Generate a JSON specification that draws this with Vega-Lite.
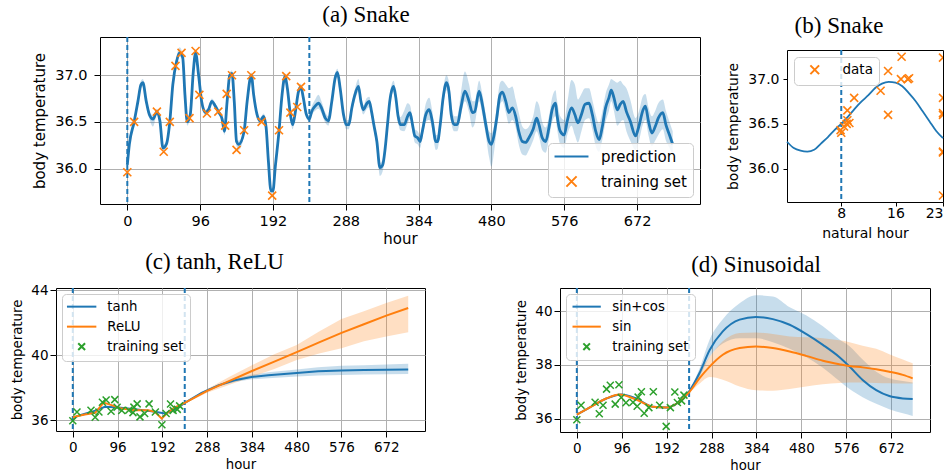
{
"$schema": "https://vega.github.io/schema/vega-lite/v6.json",
"padding": {"left": 10, "top": 3, "right": 0, "bottom": 0},
"datasets": {
"a_line": [
{"h":0,"t":36.04,"lo":36.0,"hi":36.08},{"h":2.7,"t":36.26,"lo":36.22,"hi":36.3},{"h":9,"t":36.5,"lo":36.47,"hi":36.53},{"h":14,"t":36.72,"lo":36.69,"hi":36.75},{"h":18,"t":36.9,"lo":36.86,"hi":36.94},{"h":20.5,"t":36.92,"lo":36.88,"hi":36.96},{"h":25,"t":36.72,"lo":36.69,"hi":36.75},{"h":29,"t":36.58,"lo":36.54,"hi":36.62},{"h":34,"t":36.53,"lo":36.45,"hi":36.57},{"h":39,"t":36.61,"lo":36.58,"hi":36.64},{"h":43,"t":36.51,"lo":36.48,"hi":36.54},{"h":47,"t":36.22,"lo":36.19,"hi":36.25},{"h":51.5,"t":36.26,"lo":36.22,"hi":36.3},{"h":56,"t":36.5,"lo":36.47,"hi":36.53},{"h":60,"t":36.9,"lo":36.87,"hi":36.93},{"h":65,"t":37.15,"lo":37.11,"hi":37.2},{"h":69,"t":37.24,"lo":37.2,"hi":37.3},{"h":73,"t":37.19,"lo":37.15,"hi":37.23},{"h":76,"t":36.79,"lo":36.76,"hi":36.82},{"h":79,"t":36.5,"lo":36.46,"hi":36.53},{"h":83,"t":36.58,"lo":36.55,"hi":36.61},{"h":87,"t":37.04,"lo":37.0,"hi":37.08},{"h":90,"t":37.24,"lo":37.2,"hi":37.28},{"h":94,"t":37.0,"lo":36.97,"hi":37.03},{"h":98,"t":36.72,"lo":36.69,"hi":36.75},{"h":103,"t":36.6,"lo":36.57,"hi":36.63},{"h":107,"t":36.63,"lo":36.6,"hi":36.66},{"h":111.5,"t":36.72,"lo":36.69,"hi":36.75},{"h":116,"t":36.67,"lo":36.64,"hi":36.7},{"h":120,"t":36.61,"lo":36.58,"hi":36.64},{"h":125,"t":36.53,"lo":36.5,"hi":36.56},{"h":128,"t":36.4,"lo":36.36,"hi":36.44},{"h":131.6,"t":36.72,"lo":36.69,"hi":36.75},{"h":135,"t":37.0,"lo":36.97,"hi":37.03},{"h":138,"t":37.02,"lo":36.99,"hi":37.05},{"h":141,"t":36.72,"lo":36.69,"hi":36.75},{"h":144,"t":36.29,"lo":36.24,"hi":36.32},{"h":147,"t":36.26,"lo":36.2,"hi":36.3},{"h":154,"t":36.4,"lo":36.37,"hi":36.43},{"h":158,"t":36.72,"lo":36.69,"hi":36.75},{"h":163.5,"t":37.0,"lo":36.97,"hi":37.03},{"h":166.6,"t":36.79,"lo":36.76,"hi":36.82},{"h":171,"t":36.58,"lo":36.55,"hi":36.61},{"h":175,"t":36.51,"lo":36.48,"hi":36.54},{"h":179.7,"t":36.56,"lo":36.53,"hi":36.59},{"h":183,"t":36.44,"lo":36.41,"hi":36.47},{"h":186,"t":36.08,"lo":36.05,"hi":36.11},{"h":189.4,"t":35.76,"lo":35.73,"hi":35.79},{"h":192,"t":35.76,"lo":35.73,"hi":35.79},{"h":195,"t":36.01,"lo":35.98,"hi":36.04},{"h":200,"t":36.4,"lo":36.37,"hi":36.43},{"h":204,"t":36.79,"lo":36.76,"hi":36.82},{"h":208,"t":36.99,"lo":36.96,"hi":37.02},{"h":211,"t":36.86,"lo":36.83,"hi":36.89},{"h":215,"t":36.58,"lo":36.54,"hi":36.61},{"h":218,"t":36.47,"lo":36.42,"hi":36.5},{"h":221,"t":36.58,"lo":36.55,"hi":36.61},{"h":225.8,"t":36.83,"lo":36.8,"hi":36.86},{"h":228.8,"t":36.875,"lo":36.84,"hi":36.91},{"h":232,"t":36.76,"lo":36.73,"hi":36.79},{"h":236,"t":36.58,"lo":36.55,"hi":36.61},{"h":240,"t":36.53,"lo":36.5,"hi":36.57},{"h":243,"t":36.61,"lo":36.57,"hi":36.66},{"h":247.7,"t":36.67,"lo":36.62,"hi":36.74},{"h":252,"t":36.7,"lo":36.64,"hi":36.79},{"h":256,"t":36.65,"lo":36.59,"hi":36.72},{"h":261,"t":36.54,"lo":36.49,"hi":36.6},{"h":265,"t":36.51,"lo":36.46,"hi":36.56},{"h":269.6,"t":36.72,"lo":36.67,"hi":36.77},{"h":274,"t":36.97,"lo":36.92,"hi":37.02},{"h":277,"t":37.03,"lo":36.98,"hi":37.07},{"h":280.6,"t":36.86,"lo":36.81,"hi":36.91},{"h":285,"t":36.58,"lo":36.53,"hi":36.63},{"h":288.5,"t":36.47,"lo":36.42,"hi":36.52},{"h":292,"t":36.47,"lo":36.42,"hi":36.52},{"h":296,"t":36.65,"lo":36.6,"hi":36.7},{"h":300,"t":36.79,"lo":36.73,"hi":36.85},{"h":304.7,"t":36.88,"lo":36.82,"hi":36.96},{"h":308,"t":36.72,"lo":36.66,"hi":36.78},{"h":311,"t":36.63,"lo":36.58,"hi":36.68},{"h":316,"t":36.7,"lo":36.64,"hi":36.76},{"h":319,"t":36.72,"lo":36.66,"hi":36.77},{"h":322,"t":36.61,"lo":36.56,"hi":36.66},{"h":325,"t":36.47,"lo":36.41,"hi":36.52},{"h":329,"t":36.29,"lo":36.22,"hi":36.34},{"h":333,"t":36.01,"lo":35.92,"hi":36.06},{"h":336.7,"t":36.04,"lo":35.97,"hi":36.1},{"h":340,"t":36.22,"lo":36.15,"hi":36.28},{"h":343,"t":36.47,"lo":36.41,"hi":36.52},{"h":346,"t":36.72,"lo":36.66,"hi":36.78},{"h":351,"t":36.88,"lo":36.82,"hi":36.94},{"h":354,"t":36.76,"lo":36.7,"hi":36.82},{"h":357,"t":36.56,"lo":36.5,"hi":36.62},{"h":360,"t":36.47,"lo":36.41,"hi":36.55},{"h":365,"t":36.47,"lo":36.4,"hi":36.62},{"h":369.5,"t":36.56,"lo":36.48,"hi":36.7},{"h":372.6,"t":36.6,"lo":36.53,"hi":36.68},{"h":376,"t":36.47,"lo":36.4,"hi":36.54},{"h":379,"t":36.35,"lo":36.28,"hi":36.42},{"h":382.7,"t":36.33,"lo":36.26,"hi":36.4},{"h":386,"t":36.29,"lo":36.22,"hi":36.36},{"h":389,"t":36.4,"lo":36.33,"hi":36.48},{"h":393.6,"t":36.58,"lo":36.5,"hi":36.7},{"h":398,"t":36.63,"lo":36.52,"hi":36.76},{"h":402,"t":36.51,"lo":36.42,"hi":36.62},{"h":406.8,"t":36.29,"lo":36.2,"hi":36.36},{"h":409,"t":36.29,"lo":36.21,"hi":36.36},{"h":412.5,"t":36.47,"lo":36.4,"hi":36.54},{"h":416.4,"t":36.76,"lo":36.68,"hi":36.85},{"h":420.8,"t":36.92,"lo":36.84,"hi":37.0},{"h":424,"t":36.83,"lo":36.74,"hi":36.93},{"h":427,"t":36.58,"lo":36.5,"hi":36.7},{"h":431,"t":36.47,"lo":36.4,"hi":36.56},{"h":435,"t":36.47,"lo":36.4,"hi":36.56},{"h":439.7,"t":36.65,"lo":36.56,"hi":36.8},{"h":445,"t":36.83,"lo":36.72,"hi":37.04},{"h":450.6,"t":36.72,"lo":36.6,"hi":36.9},{"h":455,"t":36.6,"lo":36.44,"hi":36.72},{"h":458,"t":36.61,"lo":36.48,"hi":36.72},{"h":463.8,"t":36.83,"lo":36.72,"hi":36.94},{"h":468,"t":36.69,"lo":36.58,"hi":36.8},{"h":472.6,"t":36.47,"lo":36.36,"hi":36.58},{"h":477,"t":36.29,"lo":36.12,"hi":36.4},{"h":480,"t":36.26,"lo":36.02,"hi":36.38},{"h":483.5,"t":36.36,"lo":36.18,"hi":36.46},{"h":487,"t":36.54,"lo":36.42,"hi":36.66},{"h":491.4,"t":36.79,"lo":36.68,"hi":36.92},{"h":494.5,"t":36.82,"lo":36.72,"hi":36.94},{"h":499,"t":36.72,"lo":36.6,"hi":36.9},{"h":503,"t":36.6,"lo":36.48,"hi":36.86},{"h":507.6,"t":36.65,"lo":36.52,"hi":36.88},{"h":512,"t":36.56,"lo":36.44,"hi":36.74},{"h":516,"t":36.4,"lo":36.26,"hi":36.6},{"h":520.8,"t":36.29,"lo":36.15,"hi":36.45},{"h":525,"t":36.28,"lo":36.14,"hi":36.42},{"h":529.5,"t":36.33,"lo":36.2,"hi":36.45},{"h":535,"t":36.42,"lo":36.3,"hi":36.56},{"h":539.6,"t":36.54,"lo":36.4,"hi":36.72},{"h":542.7,"t":36.47,"lo":36.34,"hi":36.68},{"h":547,"t":36.33,"lo":36.2,"hi":36.5},{"h":551.5,"t":36.29,"lo":36.17,"hi":36.44},{"h":555.9,"t":36.44,"lo":36.32,"hi":36.56},{"h":560,"t":36.63,"lo":36.5,"hi":36.76},{"h":564.6,"t":36.7,"lo":36.56,"hi":36.84},{"h":566.4,"t":36.58,"lo":36.44,"hi":36.74},{"h":570.8,"t":36.4,"lo":36.26,"hi":36.56},{"h":576,"t":36.36,"lo":36.22,"hi":36.52},{"h":580,"t":36.51,"lo":36.36,"hi":36.7},{"h":585.6,"t":36.65,"lo":36.46,"hi":36.95},{"h":590,"t":36.58,"lo":36.36,"hi":36.9},{"h":594,"t":36.49,"lo":36.28,"hi":36.74},{"h":598.7,"t":36.58,"lo":36.4,"hi":36.8},{"h":603.5,"t":36.69,"lo":36.52,"hi":36.86},{"h":608.7,"t":36.7,"lo":36.54,"hi":36.86},{"h":613,"t":36.58,"lo":36.42,"hi":36.74},{"h":617.5,"t":36.4,"lo":36.24,"hi":36.58},{"h":622,"t":36.31,"lo":36.18,"hi":36.48},{"h":626,"t":36.44,"lo":36.3,"hi":36.6},{"h":630.5,"t":36.65,"lo":36.5,"hi":36.8},{"h":635,"t":36.76,"lo":36.62,"hi":36.9},{"h":638,"t":36.84,"lo":36.72,"hi":36.96},{"h":641.5,"t":36.76,"lo":36.62,"hi":36.94},{"h":646,"t":36.63,"lo":36.46,"hi":36.92},{"h":650,"t":36.69,"lo":36.5,"hi":36.94},{"h":653.7,"t":36.72,"lo":36.52,"hi":36.9},{"h":658,"t":36.61,"lo":36.4,"hi":36.86},{"h":663,"t":36.51,"lo":36.3,"hi":36.74},{"h":670,"t":36.35,"lo":36.2,"hi":36.54},{"h":674,"t":36.44,"lo":36.28,"hi":36.6},{"h":680,"t":36.63,"lo":36.48,"hi":36.78},{"h":683,"t":36.67,"lo":36.52,"hi":36.8},{"h":687,"t":36.51,"lo":36.36,"hi":36.66},{"h":691.6,"t":36.38,"lo":36.24,"hi":36.56},{"h":696,"t":36.45,"lo":36.3,"hi":36.62},{"h":700,"t":36.54,"lo":36.36,"hi":36.7},{"h":706,"t":36.6,"lo":36.42,"hi":36.74},{"h":710,"t":36.47,"lo":36.3,"hi":36.62},{"h":714.8,"t":36.36,"lo":36.22,"hi":36.5},{"h":719,"t":36.26,"lo":36.14,"hi":36.4}
],
"train": [
{"h":0,"t":35.96},{"h":9,"t":36.5},{"h":39,"t":36.61},{"h":48,"t":36.18},{"h":56,"t":36.5},{"h":63.5,"t":37.1},{"h":71.5,"t":37.24},{"h":82,"t":36.54},{"h":90,"t":37.26},{"h":95,"t":36.79},{"h":105,"t":36.59},{"h":120,"t":36.61},{"h":129,"t":36.46},{"h":131,"t":36.8},{"h":138,"t":37.0},{"h":144,"t":36.2},{"h":154,"t":36.41},{"h":163.5,"t":37.0},{"h":177,"t":36.5},{"h":191,"t":35.71},{"h":200,"t":36.41},{"h":209.5,"t":36.99},{"h":215,"t":36.6},{"h":224,"t":36.66},{"h":229,"t":36.875}
],
"vl": [{"h":0},{"h":240}],
"vb": [{"nh":8}],
"b_curve": [
{"nh":0,"t":36.3},{"nh":1,"t":36.23},{"nh":2,"t":36.2},{"nh":3,"t":36.19},{"nh":4,"t":36.21},{"nh":5,"t":36.28},{"nh":6,"t":36.35},{"nh":7,"t":36.43},{"nh":8,"t":36.5},{"nh":9,"t":36.58},{"nh":10,"t":36.67},{"nh":11,"t":36.75},{"nh":12,"t":36.82},{"nh":13,"t":36.9},{"nh":14,"t":36.95},{"nh":15,"t":36.97},{"nh":16,"t":36.96},{"nh":17,"t":36.92},{"nh":18,"t":36.84},{"nh":19,"t":36.75},{"nh":20,"t":36.64},{"nh":21,"t":36.53},{"nh":22,"t":36.42},{"nh":23,"t":36.34}
],
"b_pts": [
{"nh":7.9,"t":36.43},{"nh":8.0,"t":36.4},{"nh":8.4,"t":36.47},{"nh":8.8,"t":36.5},{"nh":8.9,"t":36.54},{"nh":8.9,"t":36.65},{"nh":9.2,"t":36.51},{"nh":9.9,"t":36.79},{"nh":13.8,"t":36.87},{"nh":14.9,"t":36.6},{"nh":14.9,"t":37.09},{"nh":16.9,"t":37.25},{"nh":16.8,"t":37.0},{"nh":17.8,"t":37.0},{"nh":18.0,"t":37.01},{"nh":23,"t":37.24},{"nh":23,"t":36.79},{"nh":23,"t":36.62},{"nh":23,"t":36.6},{"nh":23,"t":36.19},{"nh":23,"t":36.18},{"nh":23,"t":35.7}
],
"c_lines": [
{"s":"tanh","h":0,"t":36.1,"lo":36.07,"hi":36.13},{"s":"tanh","h":12,"t":36.27,"lo":36.24,"hi":36.3},{"s":"tanh","h":41,"t":36.51,"lo":36.48,"hi":36.54},{"s":"tanh","h":69,"t":36.82,"lo":36.79,"hi":36.85},{"s":"tanh","h":98,"t":36.78,"lo":36.75,"hi":36.81},{"s":"tanh","h":133,"t":36.67,"lo":36.64,"hi":36.7},{"s":"tanh","h":169,"t":36.55,"lo":36.52,"hi":36.58},{"s":"tanh","h":198,"t":36.41,"lo":36.38,"hi":36.44},{"s":"tanh","h":219,"t":36.65,"lo":36.62,"hi":36.68},{"s":"tanh","h":240,"t":37.06,"lo":37.03,"hi":37.09},{"s":"tanh","h":276,"t":37.67,"lo":37.62,"hi":37.72},{"s":"tanh","h":312,"t":38.14,"lo":38.07,"hi":38.21},{"s":"tanh","h":347,"t":38.45,"lo":38.35,"hi":38.55},{"s":"tanh","h":383,"t":38.65,"lo":38.51,"hi":38.79},{"s":"tanh","h":419,"t":38.76,"lo":38.58,"hi":38.94},{"s":"tanh","h":480,"t":38.9,"lo":38.68,"hi":39.12},{"s":"tanh","h":526,"t":39.0,"lo":38.75,"hi":39.25},{"s":"tanh","h":576,"t":39.06,"lo":38.78,"hi":39.34},{"s":"tanh","h":624,"t":39.08,"lo":38.8,"hi":39.38},{"s":"tanh","h":672,"t":39.1,"lo":38.82,"hi":39.42},{"s":"tanh","h":719,"t":39.12,"lo":38.84,"hi":39.47},
{"s":"ReLU","h":0,"t":36.16,"lo":36.13,"hi":36.19},{"s":"ReLU","h":8.6,"t":36.24,"lo":36.21,"hi":36.27},{"s":"ReLU","h":26,"t":36.35,"lo":36.32,"hi":36.38},{"s":"ReLU","h":48,"t":36.45,"lo":36.42,"hi":36.48},{"s":"ReLU","h":66,"t":37.08,"lo":37.05,"hi":37.11},{"s":"ReLU","h":83,"t":36.92,"lo":36.89,"hi":36.95},{"s":"ReLU","h":105,"t":36.71,"lo":36.68,"hi":36.74},{"s":"ReLU","h":133,"t":36.61,"lo":36.58,"hi":36.64},{"s":"ReLU","h":162,"t":36.61,"lo":36.58,"hi":36.64},{"s":"ReLU","h":176,"t":36.51,"lo":36.48,"hi":36.54},{"s":"ReLU","h":190.5,"t":36.1,"lo":36.07,"hi":36.13},{"s":"ReLU","h":205,"t":36.51,"lo":36.48,"hi":36.54},{"s":"ReLU","h":219,"t":36.78,"lo":36.75,"hi":36.81},{"s":"ReLU","h":240,"t":37.06,"lo":37.03,"hi":37.09},{"s":"ReLU","h":288,"t":37.8,"lo":37.68,"hi":37.92},{"s":"ReLU","h":336,"t":38.42,"lo":38.17,"hi":38.67},{"s":"ReLU","h":384,"t":39.02,"lo":38.67,"hi":39.37},{"s":"ReLU","h":432,"t":39.6,"lo":39.15,"hi":40.05},{"s":"ReLU","h":480,"t":40.18,"lo":39.7,"hi":40.62},{"s":"ReLU","h":528,"t":40.78,"lo":40.1,"hi":41.45},{"s":"ReLU","h":576,"t":41.37,"lo":40.42,"hi":42.22},{"s":"ReLU","h":624,"t":41.9,"lo":40.85,"hi":42.7},{"s":"ReLU","h":672,"t":42.43,"lo":41.15,"hi":43.2},{"s":"ReLU","h":719,"t":42.9,"lo":41.41,"hi":43.65}
],
"d_lines": [
{"s":"sin+cos","h":0,"t":36.15,"lo":36.12,"hi":36.18},{"s":"sin+cos","h":27,"t":36.41,"lo":36.38,"hi":36.44},{"s":"sin+cos","h":63,"t":36.75,"lo":36.72,"hi":36.78},{"s":"sin+cos","h":95,"t":36.9,"lo":36.87,"hi":36.93},{"s":"sin+cos","h":127,"t":36.75,"lo":36.72,"hi":36.78},{"s":"sin+cos","h":162,"t":36.44,"lo":36.41,"hi":36.47},{"s":"sin+cos","h":191,"t":36.41,"lo":36.38,"hi":36.44},{"s":"sin+cos","h":219,"t":36.63,"lo":36.6,"hi":36.66},{"s":"sin+cos","h":241,"t":37.04,"lo":36.99,"hi":37.09},{"s":"sin+cos","h":262,"t":37.69,"lo":37.55,"hi":37.85},{"s":"sin+cos","h":284,"t":38.56,"lo":38.3,"hi":38.95},{"s":"sin+cos","h":312,"t":39.25,"lo":38.8,"hi":39.7},{"s":"sin+cos","h":348,"t":39.69,"lo":39.0,"hi":40.3},{"s":"sin+cos","h":383,"t":39.79,"lo":39.0,"hi":40.6},{"s":"sin+cos","h":419,"t":39.71,"lo":38.85,"hi":40.55},{"s":"sin+cos","h":455,"t":39.5,"lo":38.6,"hi":40.15},{"s":"sin+cos","h":490,"t":39.16,"lo":38.3,"hi":39.85},{"s":"sin+cos","h":526,"t":38.75,"lo":37.9,"hi":39.44},{"s":"sin+cos","h":561.5,"t":38.29,"lo":37.4,"hi":38.95},{"s":"sin+cos","h":583,"t":37.94,"lo":37.1,"hi":38.7},{"s":"sin+cos","h":611,"t":37.44,"lo":36.8,"hi":38.2},{"s":"sin+cos","h":640,"t":37.06,"lo":36.55,"hi":37.75},{"s":"sin+cos","h":668,"t":36.84,"lo":36.35,"hi":37.5},{"s":"sin+cos","h":697,"t":36.75,"lo":36.2,"hi":37.4},{"s":"sin+cos","h":718,"t":36.73,"lo":36.1,"hi":37.35},
{"s":"sin","h":0,"t":36.15,"lo":36.12,"hi":36.18},{"s":"sin","h":27,"t":36.41,"lo":36.38,"hi":36.44},{"s":"sin","h":63,"t":36.75,"lo":36.72,"hi":36.78},{"s":"sin","h":91,"t":36.9,"lo":36.87,"hi":36.93},{"s":"sin","h":127,"t":36.71,"lo":36.68,"hi":36.74},{"s":"sin","h":162,"t":36.44,"lo":36.41,"hi":36.47},{"s":"sin","h":191,"t":36.41,"lo":36.38,"hi":36.44},{"s":"sin","h":219,"t":36.63,"lo":36.6,"hi":36.66},{"s":"sin","h":241,"t":37.0,"lo":36.96,"hi":37.04},{"s":"sin","h":262,"t":37.5,"lo":37.3,"hi":37.75},{"s":"sin","h":284,"t":37.94,"lo":37.55,"hi":38.3},{"s":"sin","h":312,"t":38.38,"lo":37.45,"hi":38.88},{"s":"sin","h":348,"t":38.63,"lo":37.2,"hi":39.19},{"s":"sin","h":383,"t":38.69,"lo":37.06,"hi":39.21},{"s":"sin","h":419,"t":38.63,"lo":37.04,"hi":39.15},{"s":"sin","h":455,"t":38.5,"lo":37.1,"hi":39.06},{"s":"sin","h":490,"t":38.34,"lo":37.2,"hi":39.03},{"s":"sin","h":526,"t":38.16,"lo":37.28,"hi":39.0},{"s":"sin","h":561,"t":38.03,"lo":37.33,"hi":38.92},{"s":"sin","h":583,"t":37.96,"lo":37.35,"hi":38.85},{"s":"sin","h":611,"t":37.91,"lo":37.35,"hi":38.72},{"s":"sin","h":640,"t":37.84,"lo":37.33,"hi":38.6},{"s":"sin","h":668,"t":37.75,"lo":37.32,"hi":38.4},{"s":"sin","h":697,"t":37.63,"lo":37.31,"hi":38.2},{"s":"sin","h":718,"t":37.5,"lo":37.31,"hi":38.06}
]
},
"vconcat": [
{
"hconcat": [
{"width": 1, "height": 1, "view": {"stroke": null}, "data": {"values": [{"v": 0}]}, "mark": {"type": "point", "opacity": 0, "size": 1}, "encoding": {}},
{
"hconcat": [
{
"width": 600, "height": 167,
"title": {"text": "(a) Snake", "offset": 9, "dx": -34},
"layer": [
{"data": {"name": "a_line"}, "mark": {"type": "area", "color": "#1f77b4", "opacity": 0.25, "interpolate": "monotone"},
 "encoding": {
  "x": {"field": "h", "type": "quantitative", "scale": {"domain": [-36, 755], "nice": false, "zero": false}, "axis": {"title": "hour", "values": [0,96,192,288,384,480,576,672], "grid": true, "labelFontSize": 14.5, "titleFontSize": 15, "labelPadding": 4, "titlePadding": 4}},
  "y": {"field": "lo", "type": "quantitative", "title": "body temperature", "scale": {"domain": [35.62, 37.41], "nice": false, "zero": false}, "axis": {"values": [36, 36.5, 37], "format": ".1f", "grid": true, "labelFontSize": 14.5, "titleFontSize": 15, "labelPadding": 7, "titlePadding": 7}},
  "y2": {"field": "hi"}}},
{"data": {"name": "vl"}, "mark": {"type": "rule", "color": "#1f77b4", "strokeWidth": 2, "strokeDash": [5, 3]},
 "encoding": {"x": {"field": "h", "type": "quantitative"}}},
{"data": {"name": "a_line"}, "mark": {"type": "line", "strokeWidth": 2.8, "interpolate": "monotone"},
 "encoding": {
  "x": {"field": "h", "type": "quantitative"},
  "y": {"field": "t", "type": "quantitative", "title": "body temperature"},
  "color": {"datum": "prediction", "type": "nominal", "scale": {"domain": ["prediction", "training set"], "range": ["#1f77b4", "#ff7f0e"]},
   "legend": {"title": null, "orient": "bottom-right", "offset": 7, "labelFontSize": 15, "symbolSize": 128, "symbolOffset": 10, "labelOffset": 22, "rowPadding": 7, "padding": 6, "symbolStrokeWidth": 2}}}},
{"data": {"name": "train"}, "mark": {"type": "point", "filled": false, "strokeWidth": 1.6, "size": 79, "opacity": 1},
 "encoding": {
  "x": {"field": "h", "type": "quantitative"},
  "y": {"field": "t", "type": "quantitative", "title": "body temperature"},
  "color": {"datum": "training set", "type": "nominal", "scale": {"domain": ["prediction", "training set"], "range": ["#1f77b4", "#ff7f0e"]},
   "legend": {"title": null, "orient": "bottom-right", "offset": 7, "labelFontSize": 15, "symbolSize": 128, "symbolOffset": 10, "labelOffset": 22, "rowPadding": 7, "padding": 6, "symbolStrokeWidth": 2}},
  "shape": {"datum": "training set", "type": "nominal", "scale": {"domain": ["prediction", "training set"], "range": ["M-3,0L3,0", "M-0.9,-0.9L0.9,0.9M-0.9,0.9L0.9,-0.9"]},
   "legend": {"title": null, "orient": "bottom-right", "offset": 7, "labelFontSize": 15, "symbolSize": 128, "symbolOffset": 10, "labelOffset": 22, "rowPadding": 7, "padding": 6, "symbolStrokeWidth": 2}}}}
]
},
{
"vconcat": [
{"width": 1, "height": 1, "view": {"stroke": null}, "data": {"values": [{"v": 0}]}, "mark": {"type": "point", "opacity": 0, "size": 1}, "encoding": {}},
{
"width": 156, "height": 152,
"title": {"text": "(b) Snake", "offset": 11, "dx": -26},
"layer": [
{"data": {"name": "b_curve"}, "mark": {"type": "line", "color": "#1f77b4", "strokeWidth": 1.8, "interpolate": "monotone"},
 "encoding": {
  "x": {"field": "nh", "type": "quantitative", "scale": {"domain": [0, 23], "nice": false, "zero": false}, "axis": {"title": "natural hour", "values": [8, 16, 23], "grid": false, "labelFontSize": 14, "titleFontSize": 14, "tickSize": 4, "labelPadding": 0, "titlePadding": 6}},
  "y": {"field": "t", "type": "quantitative", "title": "body temperature", "scale": {"domain": [35.627, 37.325], "nice": false, "zero": false}, "axis": {"values": [36, 36.5, 37], "format": ".1f", "grid": false, "labelFontSize": 14, "titleFontSize": 14, "tickSize": 4, "labelPadding": 4, "titlePadding": 7}}}},
{"data": {"name": "vb"}, "mark": {"type": "rule", "color": "#1f77b4", "strokeWidth": 2, "strokeDash": [5, 3]},
 "encoding": {"x": {"field": "nh", "type": "quantitative"}}},
{"data": {"name": "b_pts"}, "mark": {"type": "point", "filled": false, "strokeWidth": 1.6, "size": 79, "opacity": 1, "clip": true},
 "encoding": {
  "x": {"field": "nh", "type": "quantitative"},
  "y": {"field": "t", "type": "quantitative", "title": "body temperature"},
  "color": {"datum": "data", "type": "nominal", "scale": {"domain": ["data"], "range": ["#ff7f0e"]},
   "legend": {"title": null, "orient": "top-left", "offset": 7, "labelFontSize": 13.5, "symbolSize": 94, "symbolOffset": 8, "labelOffset": 21, "padding": 6, "symbolStrokeWidth": 2}},
  "shape": {"datum": "data", "type": "nominal", "scale": {"domain": ["data"], "range": ["M-0.9,-0.9L0.9,0.9M-0.9,0.9L0.9,-0.9"]},
   "legend": {"title": null, "orient": "top-left", "offset": 7, "labelFontSize": 13.5, "symbolSize": 94, "symbolOffset": 8, "labelOffset": 21, "padding": 6, "symbolStrokeWidth": 2}}}}
]
}
],
"spacing": 12, "bounds": "flush",
"resolve": {"scale": {"color": "independent", "shape": "independent"}}
}
],
"spacing": 25,
"resolve": {"scale": {"color": "independent", "shape": "independent"}}
}
],
"spacing": -25,
"resolve": {"scale": {"color": "independent", "shape": "independent"}}
},
{
"hconcat": [
{
"width": 369, "height": 143,
"title": {"text": "(c) tanh, ReLU", "offset": 9.5, "dx": -26},
"layer": [
{"data": {"name": "c_lines"}, "transform": [{"filter": "datum.s == 'tanh'"}], "mark": {"type": "area", "color": "#1f77b4", "opacity": 0.25},
 "encoding": {
  "x": {"field": "h", "type": "quantitative", "scale": {"domain": [-36, 755], "nice": false, "zero": false}, "axis": {"title": "hour", "values": [0,96,192,288,384,480,576,672], "grid": true, "labelFontSize": 13.5, "titleFontSize": 13.3, "titlePadding": 4}},
  "y": {"field": "lo", "type": "quantitative", "title": "body temperature", "scale": {"domain": [35.33, 44.13], "nice": false, "zero": false}, "axis": {"values": [36, 38, 40, 42, 44], "grid": true, "labelFontSize": 13.5, "titleFontSize": 13.3, "labelPadding": 2, "titlePadding": 6}},
  "y2": {"field": "hi"}}},
{"data": {"name": "c_lines"}, "transform": [{"filter": "datum.s == 'ReLU'"}], "mark": {"type": "area", "color": "#ff7f0e", "opacity": 0.25},
 "encoding": {
  "x": {"field": "h", "type": "quantitative"},
  "y": {"field": "lo", "type": "quantitative", "title": "body temperature"},
  "y2": {"field": "hi"}}},
{"data": {"name": "vl"}, "mark": {"type": "rule", "color": "#1f77b4", "strokeWidth": 2, "strokeDash": [5, 3]},
 "encoding": {"x": {"field": "h", "type": "quantitative"}}},
{"data": {"name": "c_lines"}, "mark": {"type": "line", "strokeWidth": 2},
 "encoding": {
  "x": {"field": "h", "type": "quantitative"},
  "y": {"field": "t", "type": "quantitative", "title": "body temperature"},
  "color": {"field": "s", "type": "nominal", "scale": {"domain": ["tanh", "ReLU", "training set"], "range": ["#1f77b4", "#ff7f0e", "#2ca02c"]},
   "legend": {"title": null, "orient": "top-left", "offset": 6, "labelFontSize": 13.3, "symbolSize": 96, "symbolOffset": 7, "labelOffset": 19, "rowPadding": 6, "padding": 6, "symbolStrokeWidth": 2}}}},
{"data": {"name": "train"}, "mark": {"type": "point", "filled": false, "strokeWidth": 1.5, "size": 100, "opacity": 1},
 "encoding": {
  "x": {"field": "h", "type": "quantitative"},
  "y": {"field": "t", "type": "quantitative", "title": "body temperature"},
  "color": {"datum": "training set", "type": "nominal", "scale": {"domain": ["tanh", "ReLU", "training set"], "range": ["#1f77b4", "#ff7f0e", "#2ca02c"]},
   "legend": {"title": null, "orient": "top-left", "offset": 6, "labelFontSize": 13.3, "symbolSize": 96, "symbolOffset": 7, "labelOffset": 19, "rowPadding": 6, "padding": 6, "symbolStrokeWidth": 2}},
  "shape": {"datum": "training set", "type": "nominal", "scale": {"domain": ["tanh", "ReLU", "training set"], "range": ["M-3,0L3,0", "M-3,0L3,0", "M-0.7,-0.7L0.7,0.7M-0.7,0.7L0.7,-0.7"]},
   "legend": {"title": null, "orient": "top-left", "offset": 6, "labelFontSize": 13.3, "symbolSize": 96, "symbolOffset": 7, "labelOffset": 19, "rowPadding": 6, "padding": 6, "symbolStrokeWidth": 2}}}}
]
},
{
"width": 370, "height": 144,
"title": {"text": "(d) Sinusoidal", "offset": 10.5, "dx": 11},
"layer": [
{"data": {"name": "d_lines"}, "transform": [{"filter": "datum.s == 'sin+cos'"}], "mark": {"type": "area", "color": "#1f77b4", "opacity": 0.25, "interpolate": "monotone"},
 "encoding": {
  "x": {"field": "h", "type": "quantitative", "scale": {"domain": [-36, 755], "nice": false, "zero": false}, "axis": {"title": "hour", "values": [0,96,192,288,384,480,576,672], "grid": true, "labelFontSize": 13.5, "titleFontSize": 13.3, "titlePadding": 4}},
  "y": {"field": "lo", "type": "quantitative", "title": "body temperature", "scale": {"domain": [35.5, 40.87], "nice": false, "zero": false}, "axis": {"values": [36, 38, 40], "grid": true, "labelFontSize": 13.5, "titleFontSize": 13.3, "labelPadding": 2, "titlePadding": 6}},
  "y2": {"field": "hi"}}},
{"data": {"name": "d_lines"}, "transform": [{"filter": "datum.s == 'sin'"}], "mark": {"type": "area", "color": "#ff7f0e", "opacity": 0.25, "interpolate": "monotone"},
 "encoding": {
  "x": {"field": "h", "type": "quantitative"},
  "y": {"field": "lo", "type": "quantitative", "title": "body temperature"},
  "y2": {"field": "hi"}}},
{"data": {"name": "vl"}, "mark": {"type": "rule", "color": "#1f77b4", "strokeWidth": 2, "strokeDash": [5, 3]},
 "encoding": {"x": {"field": "h", "type": "quantitative"}}},
{"data": {"name": "d_lines"}, "mark": {"type": "line", "strokeWidth": 2, "interpolate": "monotone"},
 "encoding": {
  "x": {"field": "h", "type": "quantitative"},
  "y": {"field": "t", "type": "quantitative", "title": "body temperature"},
  "color": {"field": "s", "type": "nominal", "scale": {"domain": ["sin+cos", "sin", "training set"], "range": ["#1f77b4", "#ff7f0e", "#2ca02c"]},
   "legend": {"title": null, "orient": "top-left", "offset": 6, "labelFontSize": 13.3, "symbolSize": 89, "symbolOffset": 8, "labelOffset": 19, "rowPadding": 6, "padding": 6, "symbolStrokeWidth": 2}}}},
{"data": {"name": "train"}, "mark": {"type": "point", "filled": false, "strokeWidth": 1.5, "size": 100, "opacity": 1},
 "encoding": {
  "x": {"field": "h", "type": "quantitative"},
  "y": {"field": "t", "type": "quantitative", "title": "body temperature"},
  "color": {"datum": "training set", "type": "nominal", "scale": {"domain": ["sin+cos", "sin", "training set"], "range": ["#1f77b4", "#ff7f0e", "#2ca02c"]},
   "legend": {"title": null, "orient": "top-left", "offset": 6, "labelFontSize": 13.3, "symbolSize": 89, "symbolOffset": 8, "labelOffset": 19, "rowPadding": 6, "padding": 6, "symbolStrokeWidth": 2}},
  "shape": {"datum": "training set", "type": "nominal", "scale": {"domain": ["sin+cos", "sin", "training set"], "range": ["M-3,0L3,0", "M-3,0L3,0", "M-0.7,-0.7L0.7,0.7M-0.7,0.7L0.7,-0.7"]},
   "legend": {"title": null, "orient": "top-left", "offset": 6, "labelFontSize": 13.3, "symbolSize": 89, "symbolOffset": 8, "labelOffset": 19, "rowPadding": 6, "padding": 6, "symbolStrokeWidth": 2}}}}
]
}
],
"spacing": 88,
"resolve": {"scale": {"color": "independent", "shape": "independent"}}
}
],
"spacing": 3,
"resolve": {"scale": {"color": "independent", "shape": "independent"}},
"config": {
"view": {"stroke": "#000", "strokeWidth": 1},
"axis": {"labelFont": "DejaVu Sans", "titleFont": "DejaVu Sans", "labelColor": "#000", "titleColor": "#000", "titleFontWeight": "normal", "tickColor": "#000", "domain": false, "gridColor": "#b0b0b0", "gridOpacity": 1, "gridWidth": 1, "tickSize": 6, "labelOverlap": false},
"axisX": {"labelPadding": 3},
"axisY": {"labelPadding": 5},
"legend": {"labelFont": "DejaVu Sans", "labelColor": "#000", "fillColor": "rgba(255,255,255,0.8)", "strokeColor": "#cccccc", "cornerRadius": 4},
"title": {"font": "Liberation Serif", "fontSize": 23, "fontWeight": "normal", "color": "#000", "baseline": "alphabetic"}
}
}
